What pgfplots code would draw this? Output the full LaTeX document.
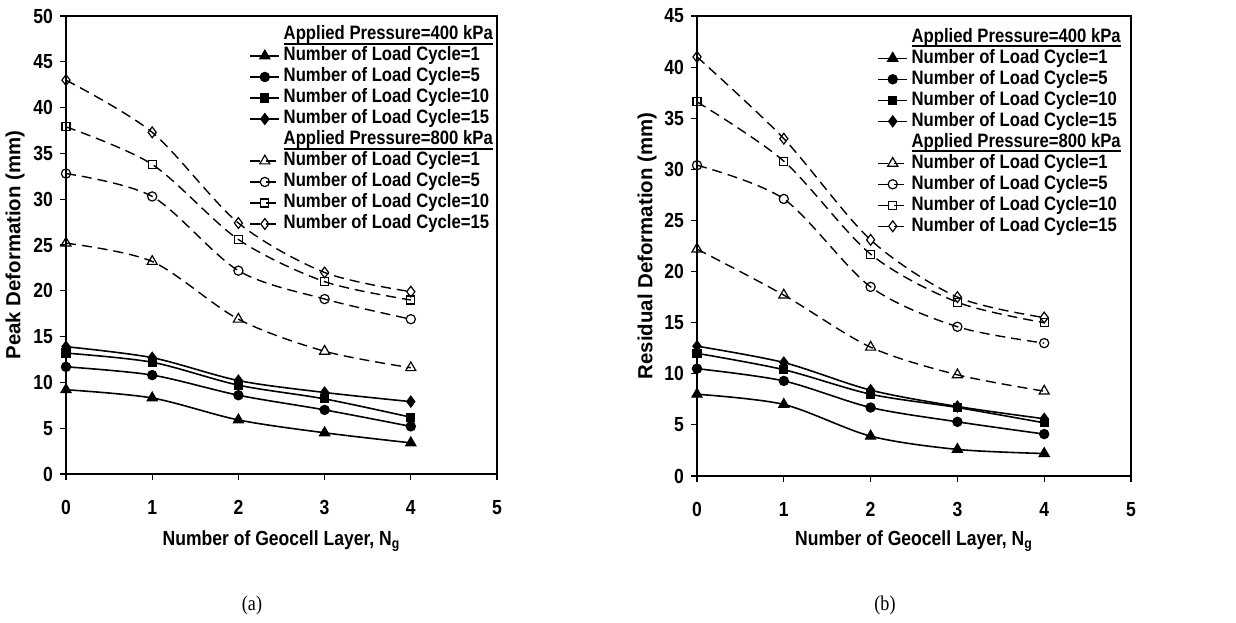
\documentclass[border=0pt]{standalone}
\usepackage{fontspec}
\setmainfont{Liberation Sans}
% the reference is squeezed sideways: narrow the horizontal text to match
\newfontfamily\sq{Liberation Sans}[FakeStretch=0.86]
\newfontfamily\timesfont{Liberation Serif}[FakeStretch=0.86]
\usepackage{pgfplots}
\pgfplotsset{compat=1.18}

% thick underline for the legend headers
\newcommand\ul[1]{\setbox0\hbox{#1}\rlap{\raisebox{-2.4pt}{\rule{\wd0}{1pt}}}\box0}

\pgfplotsset{
  geo/.style={
    scale only axis, anchor=south west,
    xmin=0, xmax=5, xtick={0,...,5}, ymin=0,
    tick align=outside, tick pos=left, major tick length=3pt,
    axis line style={line width=0.8pt},
    tick style={line width=0.6pt, black},
    ticklabel style={font=\sq\bfseries\fontsize{10.2}{11}\selectfont},
    /pgf/number format/assume math mode=true,
    xticklabel style={yshift=-6.5pt},
    xlabel style={font=\sq\bfseries\fontsize{10.2}{11}\selectfont},
    ylabel style={font=\bfseries\fontsize{10.2}{11}\selectfont},
    legend cell align=left,
    legend style={draw=none, fill=none, anchor=north west,
      font=\sq\bfseries\fontsize{9.7}{11}\selectfont,
      nodes={inner ysep=0.5pt, inner xsep=1.8pt, text height=7pt, text depth=2pt},
      row sep=0.5pt},
    legend image code/.code={
      \draw[mark repeat=2,mark phase=2,#1] plot coordinates {(0pt,0pt)(7.25pt,0pt)(14.5pt,0pt)};},
    clip=false,
  },
  lo/.style={black, line width=0.8pt, smooth, tension=0.5, mark options={solid, fill=black, line width=0.6pt}},
  hi/.style={black, line width=0.7pt, dash pattern=on 5pt off 3pt, smooth, tension=0.5, mark options={solid, line width=0.6pt}},
  m1/.style={mark=triangle*, mark size=2.9pt},
  m5/.style={mark=*, mark size=2.3pt},
  m10/.style={mark=square*, mark size=2pt},
  m15/.style={mark=diamond*, mark size=2.7pt},
  o1/.style={mark=triangle, mark size=2.9pt},
  o5/.style={mark=o, mark size=2.3pt},
  o10/.style={mark=square, mark size=2pt},
  o15/.style={mark=diamond, mark size=2.7pt},
}

\begin{document}
\begin{tikzpicture}
\useasboundingbox (0,0) rectangle (618pt,311pt);

\begin{axis}[geo, at={(33pt,74pt)}, width=215.5pt, height=229pt,
  ymax=50, ytick={0,5,...,50},
  xlabel={Number of Geocell Layer, N\textsubscript{g}},
  ylabel={Peak Deformation (mm)},
  xlabel style={at={(axis description cs:0.5,-0.147)}, anchor=center},
  ylabel style={at={(axis description cs:-0.118,0.5)}, anchor=center},
  legend style={at={(axis description cs:0.411,0.99)}}]
\addlegendimage{empty legend}\addlegendentry{\ul{Applied Pressure=400 kPa}}
\addplot[lo,m1] coordinates {(0,9.2)(1,8.3)(2,5.9)(3,4.5)(4,3.4)};
\addlegendentry{Number of Load Cycle=1}
\addplot[lo,m5] coordinates {(0,11.7)(1,10.8)(2,8.6)(3,7.0)(4,5.2)};
\addlegendentry{Number of Load Cycle=5}
\addplot[lo,m10] coordinates {(0,13.2)(1,12.2)(2,9.7)(3,8.2)(4,6.2)};
\addlegendentry{Number of Load Cycle=10}
\addplot[lo,m15] coordinates {(0,13.9)(1,12.7)(2,10.2)(3,8.9)(4,7.9)};
\addlegendentry{Number of Load Cycle=15}
\addlegendimage{empty legend}\addlegendentry{\ul{Applied Pressure=800 kPa}}
\addplot[hi,o1] coordinates {(0,25.2)(1,23.2)(2,16.9)(3,13.4)(4,11.6)};
\addlegendentry{Number of Load Cycle=1}
\addplot[hi,o5] coordinates {(0,32.8)(1,30.3)(2,22.2)(3,19.1)(4,16.9)};
\addlegendentry{Number of Load Cycle=5}
\addplot[hi,o10] coordinates {(0,37.9)(1,33.8)(2,25.6)(3,21.0)(4,19.0)};
\addlegendentry{Number of Load Cycle=10}
\addplot[hi,o15] coordinates {(0,43.0)(1,37.3)(2,27.4)(3,22.0)(4,19.9)};
\addlegendentry{Number of Load Cycle=15}
\end{axis}

\begin{axis}[geo, at={(348.5pt,73pt)}, width=217pt, height=230pt,
  ymax=45, ytick={0,5,...,45},
  xlabel={Number of Geocell Layer, N\textsubscript{g}},
  ylabel={Residual Deformation (mm)},
  xlabel style={at={(axis description cs:0.5,-0.142)}, anchor=center},
  ylabel style={at={(axis description cs:-0.115,0.5)}, anchor=center},
  legend style={at={(axis description cs:0.401,0.985)}}]
\addlegendimage{empty legend}\addlegendentry{\ul{Applied Pressure=400 kPa}}
\addplot[lo,m1] coordinates {(0,8.0)(1,7.0)(2,3.9)(3,2.6)(4,2.2)};
\addlegendentry{Number of Load Cycle=1}
\addplot[lo,m5] coordinates {(0,10.5)(1,9.3)(2,6.7)(3,5.3)(4,4.1)};
\addlegendentry{Number of Load Cycle=5}
\addplot[lo,m10] coordinates {(0,12.0)(1,10.4)(2,8.0)(3,6.7)(4,5.2)};
\addlegendentry{Number of Load Cycle=10}
\addplot[lo,m15] coordinates {(0,12.7)(1,11.1)(2,8.4)(3,6.8)(4,5.6)};
\addlegendentry{Number of Load Cycle=15}
\addlegendimage{empty legend}\addlegendentry{\ul{Applied Pressure=800 kPa}}
\addplot[hi,o1] coordinates {(0,22.2)(1,17.7)(2,12.6)(3,9.9)(4,8.3)};
\addlegendentry{Number of Load Cycle=1}
\addplot[hi,o5] coordinates {(0,30.4)(1,27.1)(2,18.5)(3,14.6)(4,13.0)};
\addlegendentry{Number of Load Cycle=5}
\addplot[hi,o10] coordinates {(0,36.6)(1,30.8)(2,21.7)(3,17.0)(4,15.0)};
\addlegendentry{Number of Load Cycle=10}
\addplot[hi,o15] coordinates {(0,41.0)(1,33.0)(2,23.1)(3,17.5)(4,15.5)};
\addlegendentry{Number of Load Cycle=15}
\end{axis}

\node[font=\timesfont\fontsize{10.5}{12}\selectfont] at (126pt,8.5pt) {(a)};
\node[font=\timesfont\fontsize{10.5}{12}\selectfont] at (442.5pt,8.5pt) {(b)};
\end{tikzpicture}
\end{document}
